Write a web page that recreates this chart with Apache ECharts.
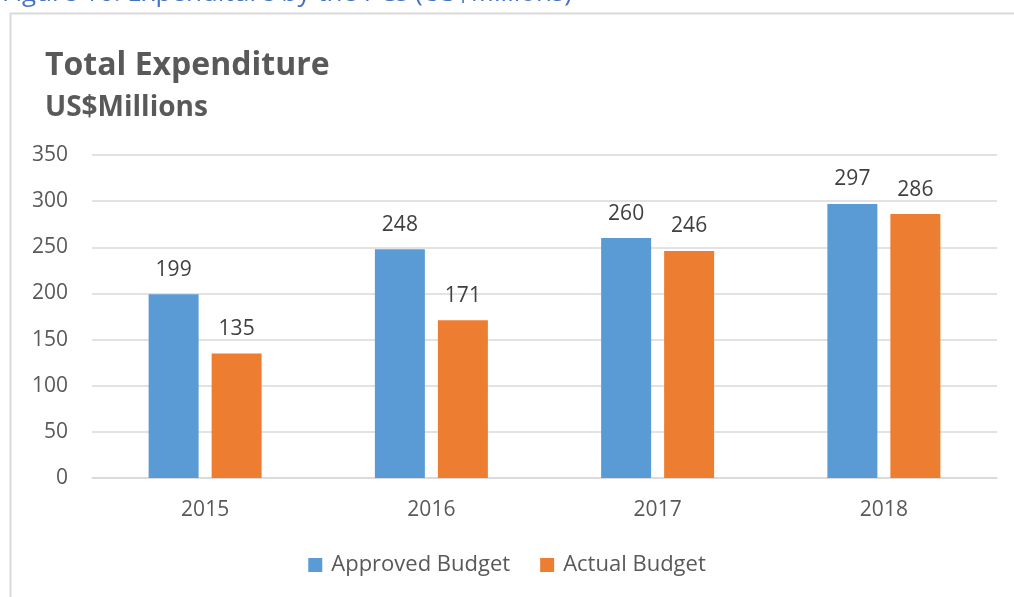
<!DOCTYPE html>
<html>
<head>
<meta charset="utf-8">
<script src="https://cdn.jsdelivr.net/npm/echarts@6/dist/echarts.min.js"></script>
<style>
  html, body { margin: 0; padding: 0; background: #fff; }
  #chart { width: 1014px; height: 597px; }
</style>
</head>
<body>
<div id="chart"></div>
<script>
  var years = ['2015', '2016', '2017', '2018'];
  var approvedBudget = [199, 248, 260, 297];
  var actualBudget = [135, 171, 246, 286];
  var seriesNames = ['Approved Budget', 'Actual Budget'];

  var chart = echarts.init(document.getElementById('chart'));
  var font = '"Open Sans", "Noto Sans", sans-serif';

  chart.setOption({
    textStyle: { fontFamily: font },
    animation: false,
    graphic: [
      {
        // caption above the chart box, cut off at the top
        type: 'text',
        left: 2,
        top: -19,
        style: {
          text: 'Figure 10: Expenditure by the PCs (US$Millions)',
          fill: '#4472c4',
          font: '26px ' + font
        }
      },
      {
        type: 'rect',
        shape: { x: 10.5, y: 13.5, width: 1100, height: 700 },
        style: { fill: 'none', stroke: '#d9d9d9', lineWidth: 2 }
      }
    ],
    title: {
      text: 'Total Expenditure',
      subtext: 'US$Millions',
      left: 40,
      top: 45,
      itemGap: 12,
      textStyle: { fontSize: 32, fontWeight: 'bold', color: '#595959', fontFamily: font },
      subtextStyle: { fontSize: 28, fontWeight: 'bold', color: '#595959', fontFamily: font }
    },
    legend: {
      data: seriesNames,
      bottom: 16,
      left: 'center',
      itemWidth: 14,
      itemHeight: 14,
      itemGap: 30,
      icon: 'rect',
      textStyle: { fontSize: 22, color: '#595959', fontFamily: font, padding: [0, 0, 0, 4] }
    },
    grid: {
      left: 92,
      right: 17,
      top: 155,
      bottom: 119
    },
    xAxis: {
      type: 'category',
      data: years,
      axisTick: { show: false },
      axisLine: { lineStyle: { color: '#d9d9d9', width: 1.5 } },
      axisLabel: { fontSize: 21, color: '#595959', margin: 22, fontFamily: font }
    },
    yAxis: {
      type: 'value',
      min: 0,
      max: 350,
      interval: 50,
      axisLine: { show: false },
      axisTick: { show: false },
      axisLabel: { fontSize: 21, color: '#595959', margin: 24, fontFamily: font },
      splitLine: { lineStyle: { color: '#d9d9d9', width: 1.5 } }
    },
    series: [
      {
        name: seriesNames[0],
        type: 'bar',
        data: approvedBudget,
        barWidth: 50,
        barGap: '26%',
        itemStyle: { color: '#5b9bd5' },
        label: { show: true, position: 'top', distance: 14, fontSize: 21, color: '#404040', fontFamily: font }
      },
      {
        name: seriesNames[1],
        type: 'bar',
        data: actualBudget,
        barWidth: 50,
        itemStyle: { color: '#ed7d31' },
        label: { show: true, position: 'top', distance: 14, fontSize: 21, color: '#404040', fontFamily: font }
      }
    ]
  });
</script>
</body>
</html>
